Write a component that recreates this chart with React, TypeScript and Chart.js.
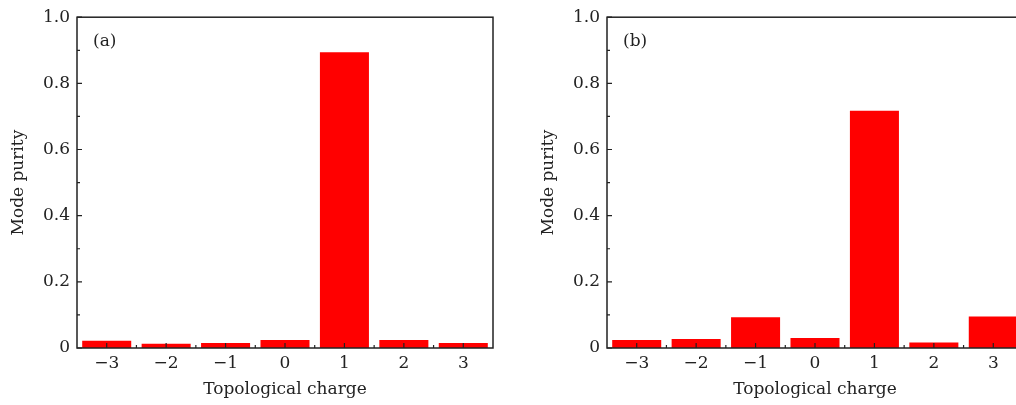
import React, { useEffect, useRef } from "react";
import { Chart, registerables } from "chart.js";

Chart.register(...registerables);

const categories = ["\u22123", "\u22122", "\u22121", "0", "1", "2", "3"];
const purityA = [0.022, 0.013, 0.015, 0.024, 0.894, 0.024, 0.015];
const purityB = [0.024, 0.027, 0.093, 0.030, 0.717, 0.017, 0.095];
const panelLabels = ["(a)", "(b)"];
const yMajorTicks = [0, 0.2, 0.4, 0.6, 0.8, 1.0];
const yMinorTicks = [0.1, 0.3, 0.5, 0.7, 0.9];
const xTitle = "Topological charge";
const yTitle = "Mode purity";

const FONT = "DejaVu Serif";
const INK = "#222";

function makeFramePlugin(label: string) {
  return {
    id: "frame",
    afterDatasetsDraw(chart: any) {
      const { ctx, chartArea } = chart;
      const ys = chart.scales.y;
      const xs = chart.scales.x;
      ctx.save();
      ctx.strokeStyle = INK;
      ctx.lineWidth = 1.5;
      ctx.strokeRect(chartArea.left, chartArea.top, chartArea.right - chartArea.left, chartArea.bottom - chartArea.top);
      ctx.lineWidth = 1.2;
      ctx.beginPath();
      yMajorTicks.forEach((v) => {
        const p = ys.getPixelForValue(v);
        ctx.moveTo(chartArea.left, p);
        ctx.lineTo(chartArea.left + 5, p);
      });
      yMinorTicks.forEach((v) => {
        const p = ys.getPixelForValue(v);
        ctx.moveTo(chartArea.left, p);
        ctx.lineTo(chartArea.left + 3, p);
      });
      categories.forEach((_, i) => {
        const p = xs.getPixelForValue(i);
        ctx.moveTo(p, chartArea.bottom);
        ctx.lineTo(p, chartArea.bottom - 5);
        if (i < categories.length - 1) {
          const q = (p + xs.getPixelForValue(i + 1)) / 2;
          ctx.moveTo(q, chartArea.bottom);
          ctx.lineTo(q, chartArea.bottom - 3);
        }
      });
      ctx.stroke();
      ctx.fillStyle = INK;
      ctx.font = `17px "${FONT}"`;
      ctx.textAlign = "left";
      ctx.textBaseline = "middle";
      ctx.fillText(label, chartArea.left + 16, chartArea.top + 24);
      ctx.restore();
    },
  };
}

function Panel({ data, label, left }: { data: number[]; label: string; left: number }) {
  const ref = useRef<HTMLCanvasElement>(null);
  useEffect(() => {
    if (!ref.current) return;
    const chart = new Chart(ref.current, {
      type: "bar",
      data: {
        labels: categories,
        datasets: [
          {
            data,
            backgroundColor: "#ff0000",
            borderWidth: 0,
            categoryPercentage: 1,
            barPercentage: 0.825,
          },
        ],
      },
      options: {
        responsive: false,
        animation: false,
        devicePixelRatio: 1,
        layout: { padding: { top: 16, right: 15, left: 0, bottom: 0 } },
        plugins: { legend: { display: false }, tooltip: { enabled: false } },
        scales: {
          x: {
            type: "category",
            grid: { display: false, drawTicks: false },
            border: { display: false },
            ticks: { color: INK, font: { family: FONT, size: 17 }, padding: 5, maxRotation: 0 },
            title: { display: true, text: xTitle, color: INK, font: { family: FONT, size: 17 }, padding: { top: 0, bottom: 5 } },
            afterFit: (s: any) => {
              s.height = 57;
            },
          },
          y: {
            min: 0,
            max: 1,
            grid: { display: false, drawTicks: false },
            border: { display: false },
            ticks: {
              stepSize: 0.2,
              color: INK,
              font: { family: FONT, size: 17 },
              padding: 7,
              callback: (v: any) => (Number(v) === 0 ? "0" : Number(v).toFixed(1)),
            },
            title: { display: true, text: yTitle, color: INK, font: { family: FONT, size: 17 }, padding: { top: 8, bottom: 0 } },
            afterFit: (s: any) => {
              s.width = 77;
            },
          },
        },
      },
      plugins: [makeFramePlugin(label)],
    });
    return () => chart.destroy();
  }, []);
  return (
    <canvas
      ref={ref}
      width={508}
      height={405}
      style={{ position: "absolute", left, top: 0, width: 508, height: 405 }}
    />
  );
}

export default function App() {
  return (
    <div
      style={{
        position: "fixed",
        left: 0,
        top: 0,
        width: 1016,
        height: 405,
        overflow: "hidden",
        background: "#fff",
      }}
    >
      <Panel data={purityA} label={panelLabels[0]} left={0} />
      <Panel data={purityB} label={panelLabels[1]} left={530} />
    </div>
  );
}
